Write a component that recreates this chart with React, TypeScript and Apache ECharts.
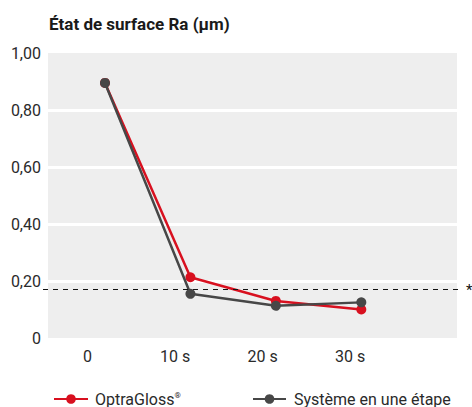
import React, { useEffect, useRef } from "react";
import * as echarts from "echarts";

const tickLabels = ["0", "10 s", "20 s", "30 s"];
const tickValues = [0, 10, 20, 30];
const times = [0, 10, 20, 30];
const optraGloss = [0.895, 0.213, 0.13, 0.1];
const oneStep = [0.895, 0.155, 0.113, 0.125];
const threshold = 0.175;
const seriesNames = ["OptraGloss®", "Système en une étape"];
const titleText = "État de surface Ra (µm)";

const RED = "#d8101f";
const GRAY = "#474747";
const FONT = "Roboto";

export default function App() {
  const ref = useRef<HTMLDivElement>(null);
  useEffect(() => {
    document.body.style.margin = "0";
    const chart = echarts.init(ref.current!, null, { renderer: "svg" });
    const gridTop = 53;
    const gridHeight = 285;
    chart.setOption({
      animation: false,
      backgroundColor: "#ffffff",
      textStyle: { fontFamily: FONT },
      title: {
        text: titleText,
        left: 44,
        top: 10,
        textStyle: { fontFamily: FONT, fontSize: 17, fontWeight: "bold", color: "#1a1a1a" },
      },
      grid: [
        {
          left: 48,
          top: gridTop,
          width: 409,
          height: gridHeight,
          show: true,
          backgroundColor: "#eeeeee",
          borderWidth: 0,
        },
        {
          left: 43,
          top: gridTop,
          width: 419,
          height: gridHeight,
          show: false,
        },
      ],
      xAxis: [
        {
          type: "value",
          gridIndex: 0,
          min: -6.67,
          max: 41.2,
          show: false,
        },
        {
          type: "value",
          gridIndex: 0,
          position: "bottom",
          min: -4.51,
          max: 42.2,
          axisLine: { show: false },
          axisTick: { show: false },
          splitLine: { show: false },
          axisLabel: {
            customValues: tickValues,
            margin: 10,
            fontSize: 16,
            color: "#2a2a2a",
            fontFamily: FONT,
            formatter: (v: number) => tickLabels[tickValues.indexOf(v)] ?? "",
          },
        },
        {
          type: "value",
          gridIndex: 1,
          min: 0,
          max: 1,
          show: false,
        },
      ],
      yAxis: [
        {
          type: "value",
          gridIndex: 0,
          min: 0,
          max: 1,
          interval: 0.2,
          axisLine: { show: false },
          axisTick: { show: false },
          splitLine: {
            show: true,
            showMinLine: false,
            showMaxLine: false,
            lineStyle: { color: "#ffffff", width: 3 },
          },
          axisLabel: {
            margin: 7,
            fontSize: 16,
            color: "#2a2a2a",
            fontFamily: FONT,
            formatter: (v: number) => (v === 0 ? "0" : v.toFixed(2).replace(".", ",")),
          },
        },
        {
          type: "value",
          gridIndex: 1,
          min: 0,
          max: 1,
          show: false,
        },
      ],
      legend: [
        {
          data: [seriesNames[0]],
          left: 48,
          top: 386,
          itemWidth: 34,
          itemHeight: 12,
          textStyle: {
            fontFamily: FONT,
            fontSize: 16,
            color: "#2a2a2a",
            padding: [0, 0, 0, 2],
            rich: {
              a: { fontFamily: FONT, fontSize: 16, color: "#2a2a2a" },
              sup: { fontFamily: FONT, fontSize: 8, color: "#2a2a2a", padding: [0, 0, 8, 0] },
            },
          },
          formatter: (name: string) =>
            name.endsWith("®") ? `{a|${name.slice(0, -1)}}{sup|®}` : name,
        },
        {
          data: [seriesNames[1]],
          left: 247,
          top: 386,
          itemWidth: 33,
          itemHeight: 12,
          textStyle: {
            fontFamily: FONT,
            fontSize: 16,
            color: "#2a2a2a",
            padding: [0, 0, 0, 3],
          },
        },
      ],
      series: [
        {
          name: seriesNames[0],
          type: "line",
          xAxisIndex: 0,
          yAxisIndex: 0,
          data: times.map((t, i) => [t, optraGloss[i]]),
          symbol: "circle",
          symbolSize: 10,
          lineStyle: { color: RED, width: 2.5 },
          itemStyle: { color: RED },
          z: 3,
        },
        {
          name: seriesNames[1],
          type: "line",
          xAxisIndex: 0,
          yAxisIndex: 0,
          data: times.map((t, i) => [t, oneStep[i]]),
          symbol: "circle",
          symbolSize: 10,
          lineStyle: { color: GRAY, width: 2.5 },
          itemStyle: { color: GRAY },
          z: 4,
        },
        {
          name: "seuil",
          type: "line",
          xAxisIndex: 2,
          yAxisIndex: 1,
          data: [],
          markLine: {
            silent: true,
            symbol: "none",
            lineStyle: { color: "#111111", type: [5, 5], width: 1.2 },
            label: {
              show: true,
              position: "end",
              formatter: "*",
              distance: 4,
              fontSize: 15,
              color: "#111111",
              fontFamily: FONT,
            },
            data: [{ yAxis: threshold }],
          },
        },
      ],
    });
    return () => chart.dispose();
  }, []);
  return <div ref={ref} style={{ width: 472, height: 407 }} />;
}
